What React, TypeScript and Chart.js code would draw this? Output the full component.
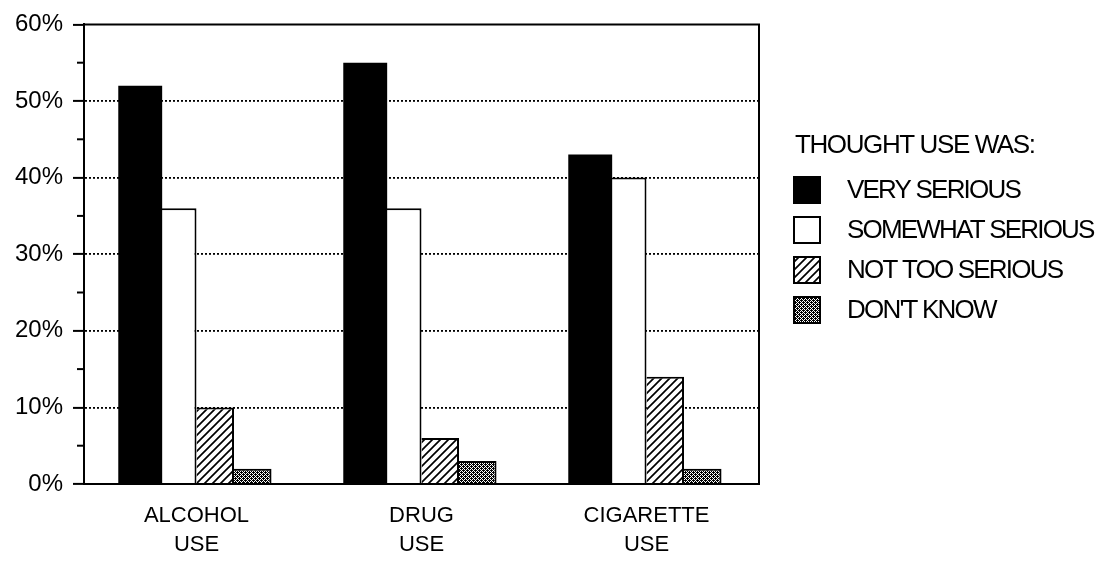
import React, { useEffect, useRef } from 'react';
import { Chart, registerables } from 'chart.js';

Chart.register(...registerables);

const categories = [['ALCOHOL', 'USE'], ['DRUG', 'USE'], ['CIGARETTE', 'USE']];
const seriesNames = ['VERY SERIOUS', 'SOMEWHAT SERIOUS', 'NOT TOO SERIOUS', "DON'T KNOW"];
const verySerious = [52, 55, 43];
const somewhatSerious = [36, 36, 40];
const notTooSerious = [10, 6, 14];
const dontKnow = [2, 3, 2];
const legendTitle = 'THOUGHT USE WAS:';
const yMin = 0;
const yMax = 60;
const yStep = 10;
const minorTicks = [5, 15, 25, 35, 45, 55];

const FONT = '"Liberation Sans", Arial, Helvetica, sans-serif';

function makeHatch(): CanvasPattern | string {
  const c = document.createElement('canvas');
  c.width = 8;
  c.height = 8;
  const g = c.getContext('2d');
  if (!g) return '#888';
  g.fillStyle = '#fff';
  g.fillRect(0, 0, 8, 8);
  g.strokeStyle = '#000';
  g.lineWidth = 1.7;
  g.beginPath();
  g.moveTo(-1, 9);
  g.lineTo(9, -1);
  g.moveTo(-3, 3);
  g.lineTo(3, -3);
  g.moveTo(5, 11);
  g.lineTo(11, 5);
  g.stroke();
  return g.createPattern(c, 'repeat') || '#888';
}

function makeDots(): CanvasPattern | string {
  const c = document.createElement('canvas');
  c.width = 4;
  c.height = 4;
  const g = c.getContext('2d');
  if (!g) return '#666';
  g.fillStyle = '#fff';
  g.fillRect(0, 0, 4, 4);
  g.fillStyle = '#000';
  const pts = [[0, 0], [2, 0], [1, 1], [3, 1], [0, 2], [2, 2], [1, 3], [3, 3], [1, 0], [3, 2]];
  pts.forEach(([x, y]) => g.fillRect(x, y, 1, 1));
  return g.createPattern(c, 'repeat') || '#666';
}

const framePlugin = {
  id: 'frameAndMinor',
  afterDraw(chart: any) {
    const { ctx, chartArea } = chart;
    const y = chart.scales.y;
    ctx.save();
    ctx.strokeStyle = '#000';
    ctx.lineWidth = 2;
    ctx.beginPath();
    ctx.moveTo(chartArea.left - 1, chartArea.top);
    ctx.lineTo(chartArea.right, chartArea.top);
    ctx.lineTo(chartArea.right, chartArea.bottom);
    ctx.stroke();
    minorTicks.forEach((v) => {
      const py = y.getPixelForValue(v);
      ctx.beginPath();
      ctx.moveTo(chartArea.left - 7, py);
      ctx.lineTo(chartArea.left, py);
      ctx.stroke();
    });
    ctx.restore();
  },
};

const legendPlugin = {
  id: 'customLegend',
  afterDraw(chart: any) {
    const ctx = chart.ctx;
    ctx.save();
    ctx.fillStyle = '#000';
    ctx.textBaseline = 'middle';
    ctx.textAlign = 'left';
    ctx.font = `26px ${FONT}`;
    (ctx as any).letterSpacing = '-1.4px';
    ctx.fillText(legendTitle, 795, 146);
    chart.data.datasets.forEach((ds: any, i: number) => {
      const cy = 190 + i * 40;
      ctx.fillStyle = ds.backgroundColor;
      ctx.fillRect(794, cy - 13, 26, 26);
      ctx.strokeStyle = '#000';
      ctx.lineWidth = 2;
      ctx.strokeRect(794, cy - 13, 26, 26);
      ctx.fillStyle = '#000';
      ctx.font = `26px ${FONT}`;
      (ctx as any).letterSpacing = '-1.8px';
      ctx.fillText(ds.label, 847, cy + 1);
    });
    ctx.restore();
  },
};

export default function App() {
  const ref = useRef<HTMLCanvasElement | null>(null);

  useEffect(() => {
    document.body.style.margin = '0';
    const canvas = ref.current;
    if (!canvas) return;
    Chart.defaults.font.family = FONT;
    Chart.defaults.color = '#000';
    const hatch = makeHatch();
    const dots = makeDots();
    const chart = new Chart(canvas, {
      type: 'bar',
      data: {
        labels: categories,
        datasets: [
          {
            label: seriesNames[0],
            data: verySerious,
            backgroundColor: '#000',
            borderWidth: 0,
            barPercentage: 1.17,
          },
          {
            label: seriesNames[1],
            data: somewhatSerious,
            backgroundColor: '#fff',
            borderColor: '#000',
            borderWidth: { top: 2, left: 0, right: 2, bottom: 0 },
          },
          {
            label: seriesNames[2],
            data: notTooSerious,
            backgroundColor: hatch as any,
            borderColor: '#000',
            borderWidth: { top: 2, left: 0, right: 2, bottom: 0 },
          },
          {
            label: seriesNames[3],
            data: dontKnow,
            backgroundColor: dots as any,
            borderColor: '#000',
            borderWidth: { top: 2, left: 0, right: 2, bottom: 0 },
          },
        ],
      },
      options: {
        animation: false,
        responsive: false,
        maintainAspectRatio: false,
        layout: { padding: { left: 0, right: 349, top: 23, bottom: 0 } },
        datasets: {
          bar: { categoryPercentage: 0.667, barPercentage: 1.0, borderSkipped: 'start' },
        },
        plugins: {
          legend: { display: false },
          tooltip: { enabled: false },
          title: { display: false },
        },
        scales: {
          x: {
            grid: { display: false, drawTicks: false },
            border: { display: true, color: '#000', width: 2 },
            ticks: {
              color: '#000',
              padding: 17,
              font: { size: 22, lineHeight: 1.32, family: FONT },
              maxRotation: 0,
              autoSkip: false,
            },
            afterFit: (scale: any) => {
              scale.height = 78;
            },
          },
          y: {
            min: yMin,
            max: yMax,
            ticks: {
              stepSize: yStep,
              color: '#000',
              padding: 10,
              font: { size: 24, family: FONT },
              callback: (v: any) => `${v}%`,
            },
            grid: {
              color: (c: any) =>
                c.tick && c.tick.value > yMin && c.tick.value < yMax ? '#000' : 'rgba(0,0,0,0)',
              lineWidth: 1.8,
              tickColor: '#000',
              tickLength: 11,
              tickWidth: 2,
            },
            border: { display: true, color: '#000', width: 2, dash: [2, 2] },
            afterFit: (scale: any) => {
              scale.width = 84;
            },
          },
        },
      },
      plugins: [framePlugin, legendPlugin],
    });
    return () => chart.destroy();
  }, []);

  return (
    <div style={{ width: 1108, height: 562, background: '#fff' }}>
      <canvas ref={ref} width={1108} height={562} style={{ display: 'block', width: 1108, height: 562 }} />
    </div>
  );
}
